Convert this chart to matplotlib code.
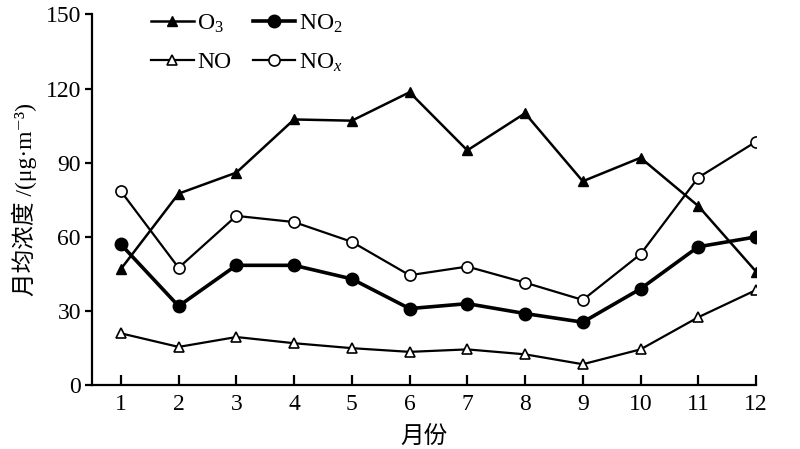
import matplotlib
matplotlib.use("Agg")
import matplotlib.pyplot as plt

months = [1, 2, 3, 4, 5, 6, 7, 8, 9, 10, 11, 12]
o3 = [47, 77.5, 86, 107.5, 107, 118.5, 95, 110, 82.5, 92, 72.5, 46]
no2 = [57, 32, 48.5, 48.5, 43, 31, 33, 29, 25.5, 39, 56, 60]
no = [21, 15.5, 19.5, 17, 15, 13.5, 14.5, 12.5, 8.5, 14.5, 27.5, 38.5]
nox = [78.5, 47.5, 68.5, 66, 58, 44.5, 48, 41.5, 34.5, 53, 84, 98.5]
yticks = [0, 30, 60, 90, 120, 150]

serif = ['Liberation Serif', 'Noto Sans CJK SC', 'DejaVu Serif']
plt.rcParams['font.family'] = serif
plt.rcParams['mathtext.fontset'] = 'custom'
plt.rcParams['mathtext.rm'] = 'Liberation Serif'
plt.rcParams['mathtext.it'] = 'Liberation Serif:italic'

fig = plt.figure(figsize=(8, 4.49), dpi=100)
ax = fig.add_axes([0.115, 0.142, 0.83, 0.826])

l_o3, = ax.plot(months, o3, color='black', lw=1.8, marker='^', ms=7.5, mfc='black', mec='black', label=r'O$_3$')
l_no2, = ax.plot(months, no2, color='black', lw=2.6, marker='o', ms=9, mfc='black', mec='black', label=r'NO$_2$')
l_no, = ax.plot(months, no, color='black', lw=1.6, marker='^', ms=7.5, mfc='white', mec='black', mew=1.2, label='NO')
l_nox, = ax.plot(months, nox, color='black', lw=1.6, marker='o', ms=8, mfc='white', mec='black', mew=1.2, label=r'NO$_{\mathit{x}}$')

ax.set_xlim(0.5, 12)
ax.set_ylim(0, 150)
ax.set_xticks(months)
ax.set_yticks(yticks)
ax.spines['top'].set_visible(False)
ax.spines['right'].set_visible(False)
for s in ['left', 'bottom']:
    ax.spines[s].set_linewidth(1.6)
ax.tick_params(axis='x', direction='in', length=7, width=1.6, labelsize=17, pad=6)
ax.tick_params(axis='y', direction='out', length=5, width=1.6, labelsize=17, pad=3)

ax.set_xlabel('月份', fontsize=17, labelpad=8)
ax.set_ylabel('月均浓度 /(μg·m⁻³)', fontsize=17, labelpad=6)

leg = ax.legend([l_o3, l_no, l_no2, l_nox],
                [l_o3.get_label(), l_no.get_label(), l_no2.get_label(), l_nox.get_label()],
                loc='upper left', bbox_to_anchor=(0.075, 1.03), ncol=2, frameon=False,
                fontsize=17, handlelength=1.8, handletextpad=0.15, columnspacing=0.9,
                labelspacing=0.7, borderaxespad=0)

fig.savefig('out.png', dpi=100)
